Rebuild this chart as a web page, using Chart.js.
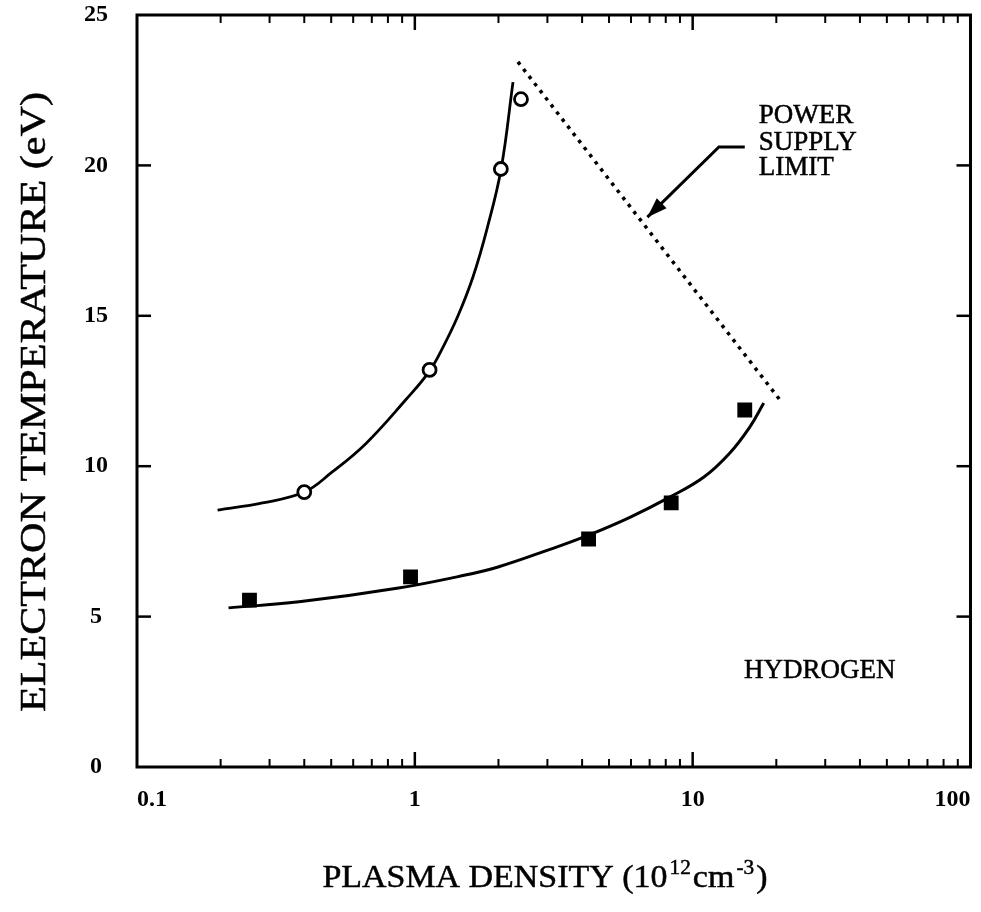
<!DOCTYPE html>
<html>
<head>
<meta charset="utf-8">
<script src="https://cdn.jsdelivr.net/npm/chart.js@4"></script>
<style>
  html, body { margin: 0; padding: 0; background: #fff; }
  #wrap { width: 981px; height: 912px; }
</style>
</head>
<body>
<div id="wrap"><canvas id="c" width="981" height="912"></canvas></div>
<script>
// tick values / labels
const xTickValues = [0.1, 1, 10, 100]
const xTickLabels = ['0.1', '1', '10', '100']
const yTickValues = [0, 5, 10, 15, 20, 25]
const xMajorInner = [1, 10]
const yMajorInner = [5, 10, 15, 20]

// measured points
const circleX = [0.40, 1.13, 2.04, 2.41]
const circleY = [9.14, 13.2, 19.88, 22.2]
const squareX = [0.254, 0.965, 4.22, 8.37, 15.4]
const squareY = [5.55, 6.32, 7.58, 8.78, 11.87]

// fitted curves
const upperFitX = [0.195, 0.283, 0.400, 0.503, 0.666, 0.926, 1.129, 1.27, 1.43, 1.62, 1.82, 2.044, 2.256]
const upperFitY = [8.54, 8.78, 9.14, 9.80, 10.75, 12.20, 13.16, 14.0, 15.0, 16.3, 17.9, 19.88, 22.77]
const lowerFitX = [0.2135, 0.383, 0.874, 1.519, 1.994, 3.01, 4.22, 5.97, 8.30, 10.98, 13.61, 16.05, 18.02]
const lowerFitY = [5.29, 5.49, 5.95, 6.38, 6.65, 7.21, 7.71, 8.31, 8.98, 9.64, 10.44, 11.30, 12.10]

// power supply limit (dotted) and the arrow pointing at it
const limitX = [2.35, 20.9]
const limitY = [23.44, 12.13]
const arrowX = [15.4, 12.43, 6.87]
const arrowY = [20.61, 20.61, 18.28]

// annotation text
const noteLines = ['POWER', 'SUPPLY', 'LIMIT']
const noteX = 17.3
const noteY = [21.41, 20.51, 19.68]
const gasLabel = 'HYDROGEN'
const gasX = 15.3
const gasY = 2.96

const yTitle = 'ELECTRON TEMPERATURE (eV)'
const xTitleParts = [
  { t: 'PLASMA DENSITY (10', sup: false },
  { t: '12', sup: true },
  { t: 'cm', sup: false },
  { t: '-3', sup: true },
  { t: ')', sup: false }
]

const serif = '"Liberation Serif", "Times New Roman", serif'
const pts = (xs, ys) => xs.map((x, i) => ({ x, y: ys[i] }))

const minorX = []
;[0.1, 1, 10].forEach(d => { for (let k = 2; k <= 9; k++) minorX.push(d * k) })

// scanned text is a bit heavier than a clean serif, so fill and lightly stroke
function inkText(ctx, t, x, y, w) {
  ctx.lineWidth = w
  ctx.fillText(t, x, y)
  ctx.strokeText(t, x, y)
}

const framePlugin = {
  id: 'frame',
  afterDraw(chart) {
    const ctx = chart.ctx
    const xs = chart.scales.x, ys = chart.scales.y
    const { left, right, top, bottom } = chart.chartArea
    ctx.save()
    ctx.strokeStyle = '#000'
    ctx.fillStyle = '#000'
    ctx.lineWidth = 3
    ctx.strokeRect(left, top, right - left, bottom - top)
    const seg = (x1, y1, x2, y2) => { ctx.beginPath(); ctx.moveTo(x1, y1); ctx.lineTo(x2, y2); ctx.stroke() }
    ctx.lineWidth = 2
    minorX.forEach(v => {
      const px = xs.getPixelForValue(v)
      seg(px, bottom, px, bottom - 8)
      seg(px, top, px, top + 8)
    })
    ctx.lineWidth = 2.5
    xMajorInner.forEach(v => {
      const px = xs.getPixelForValue(v)
      seg(px, bottom, px, bottom - 15)
      seg(px, top, px, top + 15)
    })
    yMajorInner.forEach(v => {
      const py = ys.getPixelForValue(v)
      seg(left, py, left + 14, py)
      seg(right, py, right - 14, py)
    })

    // arrow head at the end of the arrow dataset
    const am = chart.getDatasetMeta(5).data
    const a = am[am.length - 2], b = am[am.length - 1]
    const ang = Math.atan2(b.y - a.y, b.x - a.x)
    const L = 20, W = 7
    ctx.beginPath()
    ctx.moveTo(b.x, b.y)
    ctx.lineTo(b.x - L * Math.cos(ang) + W * Math.sin(ang), b.y - L * Math.sin(ang) - W * Math.cos(ang))
    ctx.lineTo(b.x - L * Math.cos(ang) - W * Math.sin(ang), b.y - L * Math.sin(ang) + W * Math.cos(ang))
    ctx.closePath()
    ctx.fill()

    // annotation text
    ctx.font = '27px ' + serif
    ctx.textAlign = 'left'
    ctx.textBaseline = 'alphabetic'
    noteLines.forEach((t, i) => inkText(ctx, t, xs.getPixelForValue(noteX), ys.getPixelForValue(noteY[i]), 0.5))
    inkText(ctx, gasLabel, xs.getPixelForValue(gasX), ys.getPixelForValue(gasY), 0.5)

    // y axis title
    ctx.save()
    ctx.translate(45, 402)
    ctx.rotate(-Math.PI / 2)
    ctx.font = '36px ' + serif
    const yw = ctx.measureText(yTitle).width
    ctx.scale(620 / yw, 1)
    ctx.textAlign = 'center'
    inkText(ctx, yTitle, 0, 0, 0.5)
    ctx.restore()

    // x axis title with superscripts
    const big = '32px ' + serif, small = '20px ' + serif
    const gap = 2
    let total = 0
    const widths = xTitleParts.map(p => {
      ctx.font = p.sup ? small : big
      const w = ctx.measureText(p.t).width
      total += w + gap
      return w
    })
    total -= gap
    const target = 445
    ctx.save()
    ctx.translate(545, 887)
    ctx.scale(target / total, 1)
    let cx = -total / 2
    xTitleParts.forEach((p, i) => {
      ctx.font = p.sup ? small : big
      inkText(ctx, p.t, cx, p.sup ? -13 : 0, 0.5)
      cx += widths[i] + gap
    })
    ctx.restore()
    ctx.restore()
  }
}

new Chart(document.getElementById('c'), {
  type: 'scatter',
  data: {
    datasets: [
      { label: 'circles', data: pts(circleX, circleY), pointStyle: 'circle', pointRadius: 6.5, borderWidth: 2.8, borderColor: '#000', backgroundColor: '#fff', showLine: false },
      { label: 'squares', data: pts(squareX, squareY), pointStyle: 'rect', pointRadius: 10.5, borderWidth: 0, borderColor: '#000', backgroundColor: '#000', showLine: false },
      { label: 'upper fit', data: pts(upperFitX, upperFitY), showLine: true, pointRadius: 0, borderColor: '#000', borderWidth: 2.8, tension: 0.4 },
      { label: 'lower fit', data: pts(lowerFitX, lowerFitY), showLine: true, pointRadius: 0, borderColor: '#000', borderWidth: 3, tension: 0.4 },
      { label: 'limit', data: pts(limitX, limitY), showLine: true, pointRadius: 0, borderColor: '#000', borderWidth: 3.5, borderDash: [3.5, 5.5] },
      { label: 'arrow', data: pts(arrowX, arrowY), showLine: true, pointRadius: 0, borderColor: '#000', borderWidth: 3, tension: 0 }
    ]
  },
  options: {
    responsive: false,
    animation: false,
    layout: { padding: { top: 15, right: 6, left: 0, bottom: 0 } },
    plugins: { legend: { display: false }, tooltip: { enabled: false } },
    scales: {
      x: {
        type: 'logarithmic',
        min: 0.1,
        max: 100,
        grid: { display: false, drawTicks: false, tickLength: 0 },
        border: { display: false },
        afterBuildTicks: s => { s.ticks = xTickValues.map(v => ({ value: v })) },
        afterFit: s => { s.height = 145; s.paddingLeft = 0; s.paddingRight = 0 },
        ticks: {
          autoSkip: false,
          maxRotation: 0,
          align: 'inner',
          padding: 18,
          color: '#000',
          font: { family: serif, size: 24, weight: 'bold' },
          callback: v => xTickLabels[xTickValues.indexOf(v)] ?? ''
        }
      },
      y: {
        min: 0,
        max: 25,
        grid: { display: false, drawTicks: false, tickLength: 0 },
        border: { display: false },
        afterBuildTicks: s => { s.ticks = yTickValues.map(v => ({ value: v })) },
        afterFit: s => { s.width = 137; s.paddingTop = 0; s.paddingBottom = 0 },
        ticks: {
          crossAlign: 'center',
          padding: 29,
          color: '#000',
          font: { family: serif, size: 24, weight: 'bold' }
        }
      }
    }
  },
  plugins: [framePlugin]
})
</script>
</body>
</html>
